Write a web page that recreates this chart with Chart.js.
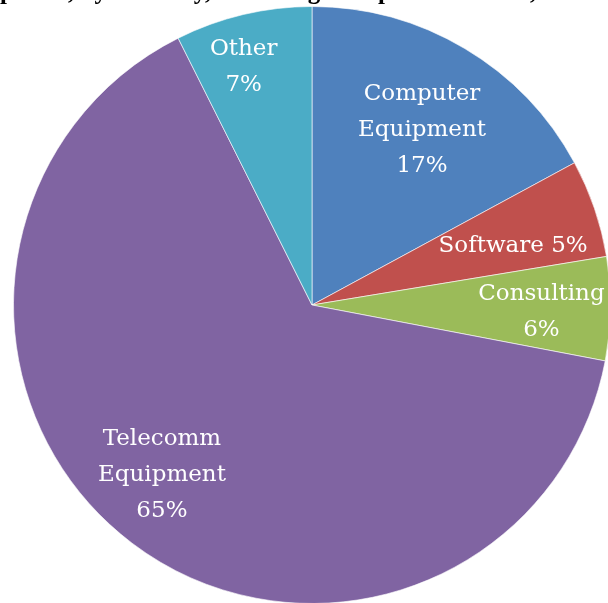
<!DOCTYPE html>
<html><head><meta charset="utf-8">
<script src="https://cdn.jsdelivr.net/npm/chart.js@4"></script>
<style>
html,body{margin:0;padding:0;background:#fff;overflow:hidden;width:608px;height:603px;position:relative;}
#wrap{position:absolute;left:0;top:-40px;width:624px;height:644px;}
</style></head><body>
<div id="wrap"><canvas id="c"></canvas></div>
<script>
// ---- data ----
const categories = ["Computer Equipment", "Software", "Consulting", "Telecomm Equipment", "Other"];
const shares = [17.1, 5.3, 5.6, 64.6, 7.4];
const labelNameLines = [["Computer", "Equipment"], ["Software"], ["Consulting"], ["Telecomm", "Equipment"], ["Other"]];
const percentInline = [false, true, false, false, false];
const sliceColors = ["#4F81BD", "#C0504D", "#9BBB59", "#8064A2", "#4BACC6"];
const titleText = "IT Spending on Equipment, by Industry, Including Computer Services, 2010";
const titleVisibleFrom = "pment,"; // title is cut off by the picture's edge

const sliceLabels = {
  id: 'sliceLabels',
  afterDatasetsDraw(chart, args, opts) {
    const ctx = chart.ctx;
    const meta = chart.getDatasetMeta(0);
    const total = shares.reduce((a, b) => a + b, 0);
    ctx.save();
    ctx.font = opts.font;
    ctx.fillStyle = opts.color;
    ctx.textAlign = 'center';
    ctx.textBaseline = 'middle';
    meta.data.forEach((arc, i) => {
      const p = arc.getProps(['x', 'y', 'startAngle', 'endAngle', 'outerRadius'], true);
      const pl = opts.place[i];
      const mid = (p.startAngle + p.endAngle) / 2 + pl.dAngle * Math.PI / 180;
      const r = p.outerRadius * pl.frac;
      const cx = p.x + r * Math.cos(mid), cy = p.y + r * Math.sin(mid);
      const pct = Math.round(shares[i] / total * 100) + '%';
      let lines = labelNameLines[i].slice();
      if (percentInline[i]) lines[lines.length - 1] += ' ' + pct; else lines.push(pct);
      lines.forEach((l, k) => ctx.fillText(l, cx, cy + (k - (lines.length - 1) / 2) * opts.lineHeight));
    });
    ctx.restore();
  }
};

const clippedTitle = {
  id: 'clippedTitle',
  afterDraw(chart, args, opts) {
    const ctx = chart.ctx;
    ctx.save();
    ctx.font = opts.font;
    ctx.fillStyle = '#000';
    ctx.textAlign = 'left';
    ctx.textBaseline = 'alphabetic';
    const idx = titleText.indexOf(titleVisibleFrom);
    const pre = ctx.measureText(titleText.slice(0, idx)).width;
    ctx.fillText(titleText, opts.x - pre, opts.baseline);
    ctx.restore();
  }
};

new Chart(document.getElementById('c'), {
  type: 'pie',
  data: {
    labels: categories,
    datasets: [{
      data: shares,
      backgroundColor: sliceColors,
      borderColor: 'rgba(255,255,255,0.6)',
      borderWidth: 1
    }]
  },
  options: {
    responsive: true,
    maintainAspectRatio: false,
    animation: false,
    layout: { padding: { top: 46, bottom: 0, left: 0, right: 0 } },
    plugins: {
      legend: { display: false },
      tooltip: { enabled: false },
      title: { display: false },
      sliceLabels: {
        font: '23px "DejaVu Serif"',
        color: '#ffffff',
        lineHeight: 36,
        place: [
          { frac: 0.692, dAngle: 1.4 },
          { frac: 0.702, dAngle: 2.6 },
          { frac: 0.769, dAngle: 1.0 },
          { frac: 0.759, dAngle: 4.4 },
          { frac: 0.829, dAngle: -2.7 }
        ]
      },
      clippedTitle: { font: 'bold 25px "Liberation Serif"', x: 0, baseline: 39 }
    }
  },
  plugins: [sliceLabels, clippedTitle]
});
</script>
</body></html>
